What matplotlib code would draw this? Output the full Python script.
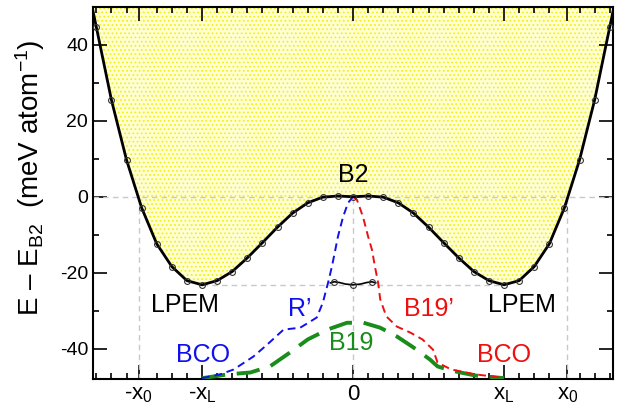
import matplotlib
matplotlib.use("Agg")
import matplotlib.pyplot as plt
import numpy as np

plt.rcParams['font.family'] = ['Liberation Sans', 'DejaVu Sans']
plt.rcParams['mathtext.fontset'] = 'custom'
plt.rcParams['mathtext.rm'] = 'Liberation Sans'
plt.rcParams['mathtext.it'] = 'Liberation Sans:italic'
plt.rcParams['axes.unicode_minus'] = False
plt.rcParams['hatch.linewidth'] = 0.8

# positions of the special strains
x_L = 1.0
x_0 = 1.42

# total energy along the path (meV/atom), circles every 0.1
path_x = [-1.7, -1.6, -1.5, -1.4, -1.3, -1.2, -1.1, -1.0, -0.9, -0.8, -0.7, -0.6,
          -0.5, -0.4, -0.3, -0.2, -0.1, 0.0, 0.1, 0.2, 0.3, 0.4, 0.5, 0.6, 0.7,
          0.8, 0.9, 1.0, 1.1, 1.2, 1.3, 1.4, 1.5, 1.6, 1.7]
path_y = [44.7, 25.5, 9.7, -2.9, -12.4, -18.4, -22.1, -23.2, -22.1, -19.7, -16.1, -12.1,
          -8.0, -4.3, -1.6, -0.1, 0.2, 0.0, 0.2, -0.1, -1.6, -4.3, -8.0, -12.1, -16.1,
          -19.7, -22.1, -23.2, -22.1, -18.4, -12.4, -2.9, 9.7, 25.5, 44.7]
# where the curve leaves through the top of the frame
edge_x = [-1.728, 1.728]
edge_y = [50.0, 50.0]

# small local curve near the origin
mid_pts_x = [-0.125, 0.0, 0.125]
mid_pts_y = [-22.4, -23.2, -22.4]
mid_x = [-0.15, -0.125, -0.09, -0.05, 0.0, 0.05, 0.09, 0.125, 0.15]
mid_y = [-22.7, -22.4, -22.6, -23.0, -23.2, -23.0, -22.6, -22.4, -22.7]

# R' path (blue)
rp_x = [-1.0, -0.88, -0.79, -0.66, -0.57, -0.46, -0.35, -0.28, -0.24, -0.2, -0.165,
        -0.14, -0.12, -0.1, -0.066, -0.033, 0.0]
rp_y = [-47.8, -46.8, -45.5, -42.1, -39.0, -35.0, -34.5, -32.8, -31.8, -27.9, -22.6,
        -18.4, -14.5, -10.5, -5.3, -1.6, 0.0]

# B19' path (red)
b19p_x = [0.0, 0.026, 0.066, 0.1, 0.125, 0.145, 0.166, 0.18, 0.22, 0.29, 0.38, 0.46,
          0.53, 0.56, 0.65, 0.81, 0.98, 1.0]
b19p_y = [0.0, -0.8, -5.3, -10.5, -13.9, -18.4, -22.6, -27.0, -31.5, -34.2, -35.8, -37.6,
          -40.3, -43.7, -45.5, -46.8, -47.6, -47.8]

# B19 path (green)
b19_x = [-1.0, -0.83, -0.68, -0.55, -0.42, -0.3, -0.17, -0.04, 0.07, 0.18, 0.29, 0.4,
         0.51, 0.56, 0.65, 0.81, 1.0]
b19_y = [-47.8, -46.8, -46.3, -44.7, -41.1, -37.6, -35.0, -33.2, -33.2, -34.5, -36.8, -39.7,
         -42.9, -44.7, -45.8, -47.1, -47.8]

fig = plt.figure(figsize=(6.18, 4.11), dpi=100)
ax = fig.add_axes([0.1505, 0.078, 0.8415, 0.905])

line_x = [edge_x[0]] + path_x + [edge_x[1]]
line_y = [edge_y[0]] + path_y + [edge_y[1]]

ax.fill_between(line_x, line_y, 50, facecolor='#ffffd2', edgecolor='#f0f020',
                hatch='....', linewidth=0, zorder=1)

grey = dict(color='#c8c8c8', lw=1.0, dashes=(4, 3), zorder=2)
ax.axhline(0, **grey)
ax.plot([-x_L, x_L], [-23.2, -23.2], **grey)
ax.plot([-x_0, -x_0], [-48, 0], **grey)
ax.plot([x_0, x_0], [-48, 0], **grey)
ax.plot([0, 0], [-48, 0], **grey)

ax.plot(b19_x, b19_y, color='#1a8c1a', lw=2.8, dashes=(6, 3), zorder=3)
ax.plot(rp_x, rp_y, color='#1010ee', lw=1.4, dashes=(4, 2.5), zorder=4)
ax.plot(b19p_x, b19p_y, color='#ee1010', lw=1.4, dashes=(4, 2.5), zorder=4)

ax.plot(line_x, line_y, color='black', lw=2.0, zorder=5)
ax.plot(path_x, path_y, 'o', ms=4.2, mfc='none', mec='#333333', mew=0.8, zorder=6)
ax.plot(mid_x, mid_y, color='black', lw=1.2, zorder=5)
ax.plot(mid_pts_x, mid_pts_y, 'o', ms=4.2, mfc='none', mec='#333333', mew=0.8, zorder=6)

fs = 18
ax.text(0, 5.8, 'B2', fontsize=fs, ha='center', va='center')
ax.text(-1.11, -28.4, 'LPEM', fontsize=fs, ha='center', va='center')
ax.text(1.12, -28.4, 'LPEM', fontsize=fs, ha='center', va='center')
ax.text(-0.35, -29.7, 'R\u2019', fontsize=fs, ha='center', va='center', color='#1010ee')
ax.text(0.50, -29.7, 'B19\u2019', fontsize=fs, ha='center', va='center', color='#ee1010')
ax.text(-0.01, -38.6, 'B19', fontsize=fs, ha='center', va='center', color='#1a8c1a')
ax.text(-0.99, -41.6, 'BCO', fontsize=fs, ha='center', va='center', color='#1010ee')
ax.text(1.0, -41.6, 'BCO', fontsize=fs, ha='center', va='center', color='#ee1010')

ax.set_xlim(-1.722, 1.722)
ax.set_ylim(-48, 50)

ax.set_xticks([-x_0, -x_L, 0, x_L, x_0])
ax.set_xticklabels(['-x$_\\mathregular{0}$', '-x$_\\mathregular{L}$', '0',
                    'x$_\\mathregular{L}$', 'x$_\\mathregular{0}$'], fontsize=16)
minor = [round(v, 1) for v in np.arange(-1.7, 1.71, 0.1)]
minor = [v for v in minor if v not in (0.0, -1.0, 1.0, -1.4, 1.4)]
ax.set_xticks(minor, minor=True)
ax.set_yticks([-40, -20, 0, 20, 40])
ax.set_yticks([-30, -10, 10, 30], minor=True)
ax.tick_params(axis='y', labelsize=14)
ax.tick_params(which='both', direction='in', top=True, right=True, width=1.2)
ax.tick_params(which='major', length=10)
ax.tick_params(which='minor', length=4)
for s in ax.spines.values():
    s.set_linewidth(1.5)

fig.text(30 / 618, 1 - 178 / 411, 'E \u2013 E$_\\mathregular{B2}$  (meV atom$^\\mathregular{-1}$)',
         rotation=90, ha='center', va='center', fontsize=20)

fig.savefig('out.png', dpi=100)
